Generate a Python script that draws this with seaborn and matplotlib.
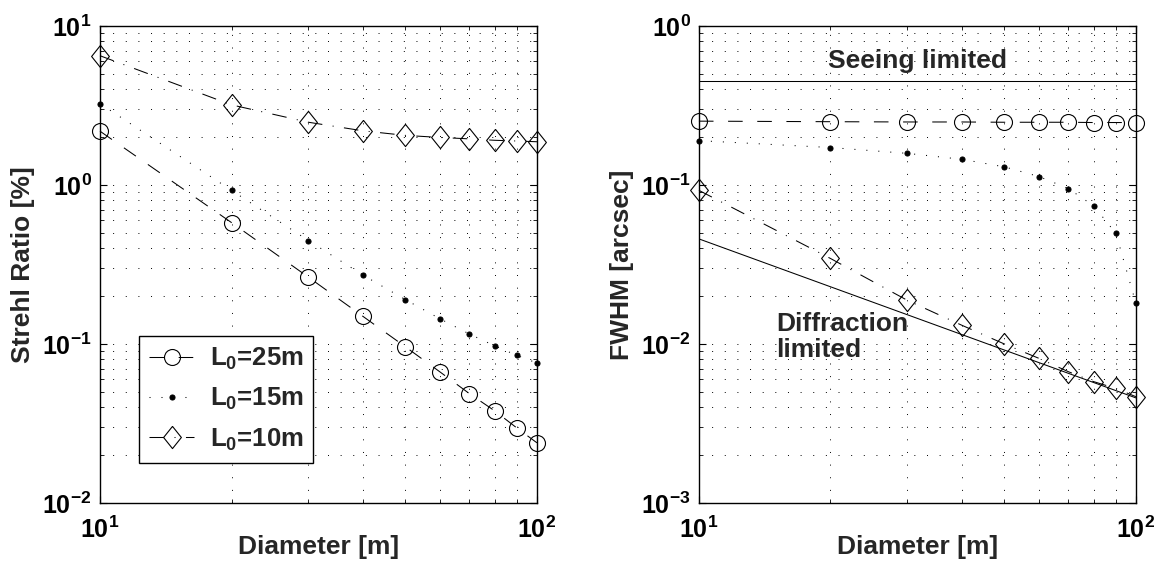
import matplotlib
matplotlib.use('Agg')
import matplotlib.pyplot as plt
from matplotlib.ticker import NullFormatter
import seaborn as sns

# telescope diameter [m]
diameter = [10, 20, 30, 40, 50, 60, 70, 80, 90, 100]

# Strehl ratio [%] for each outer scale
strehl_L25 = [2.18, 0.58, 0.263, 0.149, 0.096, 0.0667, 0.0488, 0.038, 0.0296, 0.0239]
strehl_L15 = [3.25, 0.925, 0.447, 0.271, 0.19, 0.144, 0.1156, 0.0974, 0.0847, 0.0759]
strehl_L10 = [6.5, 3.19, 2.48, 2.19, 2.05, 1.99, 1.95, 1.91, 1.89, 1.87]

# FWHM [arcsec] for each outer scale
fwhm_L25 = [0.252, 0.250, 0.249, 0.249, 0.248, 0.248, 0.248, 0.247, 0.247, 0.247]
fwhm_L15 = [0.19, 0.172, 0.158, 0.145, 0.130, 0.113, 0.095, 0.074, 0.0496, 0.018]
fwhm_L10 = [0.0925, 0.0345, 0.0188, 0.0131, 0.0100, 0.00812, 0.0067, 0.0058, 0.00525, 0.00466]

# reference limits
diffraction_D = [10, 100]
diffraction_fwhm = [0.0458, 0.00458]
seeing_fwhm = 0.45

labels = ['L$_0$=25m', 'L$_0$=15m', 'L$_0$=10m']

sns.set_style('ticks')
plt.rcParams['font.family'] = ['Liberation Sans', 'DejaVu Sans']
plt.rcParams['font.weight'] = 'bold'
plt.rcParams['mathtext.fontset'] = 'custom'
plt.rcParams['mathtext.default'] = 'bf'
plt.rcParams['mathtext.bf'] = 'Liberation Sans:bold'
plt.rcParams['mathtext.rm'] = 'Liberation Sans:bold'
plt.rcParams['axes.labelweight'] = 'bold'

# matlab-like diamond, a bit narrower than tall
diamond = [(0, 1), (0.8, 0), (0, -1), (-0.8, 0), (0, 1)]

LW = 0.75
styles = [
    dict(marker='o', markersize=11.5, markerfacecolor='none', linestyle=(0, (14, 14))),
    dict(marker='o', markersize=3.6, markerfacecolor='k', linestyle=(0, (1, 10.5))),
    dict(marker=diamond, markersize=16, markerfacecolor='none', linestyle=(0, (14, 10, 1, 10))),
]

fig = plt.figure(figsize=(11.61, 5.62), dpi=100)
ax1 = fig.add_axes([0.0861, 0.105, 0.3764, 0.8488])
ax2 = fig.add_axes([0.602, 0.105, 0.3764, 0.8488])


def setup_axes(ax, ylim, ylabel):
    ax.set_xscale('log')
    ax.set_yscale('log')
    ax.set_xlim(10, 100)
    ax.set_ylim(*ylim)
    ax.grid(True, which='both', color='k', linestyle=(0, (1, 12)), linewidth=0.7)
    ax.set_axisbelow(True)
    ax.tick_params(which='both', direction='in', top=True, right=True, colors='k')
    ax.tick_params(which='major', length=5, width=0.8, labelsize=18)
    ax.tick_params(which='minor', length=3, width=0.6)
    ax.tick_params(axis='x', which='major', pad=10)
    ax.tick_params(axis='y', which='major', pad=6)
    ax.xaxis.set_minor_formatter(NullFormatter())
    ax.yaxis.set_minor_formatter(NullFormatter())
    for s in ax.spines.values():
        s.set_color('k')
        s.set_linewidth(1.0)
    ax.set_xlabel('Diameter [m]', fontsize=19, labelpad=-6)
    ax.set_ylabel(ylabel, fontsize=19, labelpad=5)


setup_axes(ax1, (1e-2, 1e1), 'Strehl Ratio [%]')
setup_axes(ax2, (1e-3, 1e0), 'FWHM [arcsec]')

for vals, lab, st in zip([strehl_L25, strehl_L15, strehl_L10], labels, styles):
    sns.lineplot(x=diameter, y=vals, ax=ax1, color='k', linewidth=LW, clip_on=False,
                 markeredgecolor='k', markeredgewidth=0.8, label=lab, **st)

for vals, st in zip([fwhm_L25, fwhm_L15, fwhm_L10], styles):
    sns.lineplot(x=diameter, y=vals, ax=ax2, color='k', linewidth=LW, clip_on=False,
                 markeredgecolor='k', markeredgewidth=0.8, **st)

sns.lineplot(x=diffraction_D, y=diffraction_fwhm, ax=ax2, color='k', linewidth=LW)
ax2.axhline(seeing_fwhm, color='k', linewidth=LW)
ax2.text(31.6, 0.6, 'Seeing limited', ha='center', va='center', fontsize=19, fontweight='bold')
ax2.text(15.0, 0.011, 'Diffraction\nlimited', ha='left', va='center', fontsize=19,
         fontweight='bold', linespacing=1.1)

leg = ax1.legend(loc='lower left', bbox_to_anchor=(0.089, 0.084), borderaxespad=0,
                 fontsize=18.5, handlelength=1.75, handletextpad=0.6, labelspacing=0.55,
                 fancybox=False, edgecolor='k', framealpha=1, borderpad=0.4)
leg.get_frame().set_linewidth(1.0)
if ax2.get_legend() is not None:
    ax2.get_legend().remove()

fig.savefig('out.png', dpi=100)
